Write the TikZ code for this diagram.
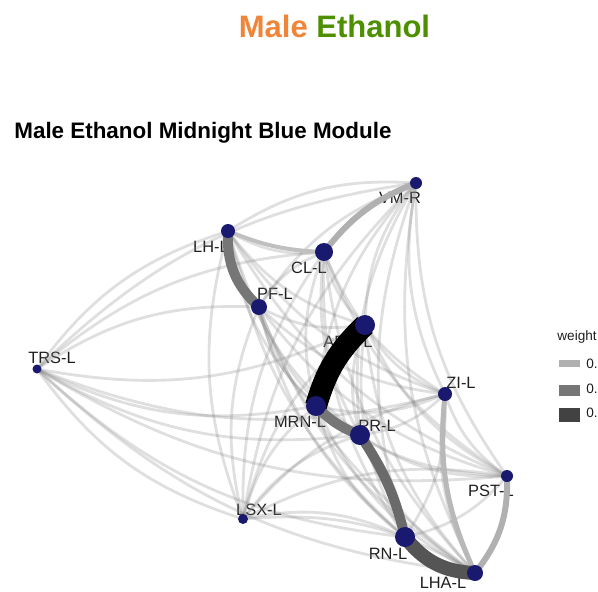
\documentclass[tikz,border=0pt]{standalone}
\usepackage{fontspec}
\setmainfont{Liberation Sans}
\pgfdeclarelayer{labels}
\pgfdeclarelayer{edges}
\pgfsetlayers{labels,edges,main}
\definecolor{mblue}{RGB}{25,25,112}
\definecolor{titleorange}{RGB}{240,132,56}
\definecolor{titlegreen}{RGB}{78,143,0}
\definecolor{wlight}{RGB}{176,176,176}
\definecolor{wmid}{RGB}{118,118,118}
\definecolor{wdark}{RGB}{66,66,66}
\definecolor{labeltext}{RGB}{30,30,30}
\tikzset{
  vert/.style={circle, fill=mblue, draw=none, inner sep=0pt},
  vlabel/.style={anchor=base, inner sep=0pt, text=labeltext, font=\fontsize{8.2}{9}\selectfont},
  thinedge/.style={draw=black!50, line width=1.4pt, opacity=0.25},
  legtext/.style={anchor=base west, inner sep=0pt, text=labeltext, font=\fontsize{6.8}{8}\selectfont}
}
\begin{document}
\begin{tikzpicture}[x=0.5pt, y=0.5pt]
\useasboundingbox (0,0) rectangle (598,591);
% titles
\node[anchor=base, inner sep=0pt, font=\bfseries\fontsize{15.5}{18}\selectfont] (title) at (334.5,554)
  {\textcolor{titleorange}{Male} \textcolor{titlegreen}{Ethanol}};
\node[anchor=base west, inner sep=0pt, font=\bfseries\fontsize{11.2}{13}\selectfont] (subtitle) at (14,453)
  {Male Ethanol Midnight Blue Module};
% vertices
\node[vert, minimum size=6pt] (VM) at (416,408) {};
\node[vert, minimum size=7pt] (LH) at (228,360) {};
\node[vert, minimum size=9pt] (CL) at (324,339) {};
\node[vert, minimum size=8pt] (PF) at (259,284) {};
\node[vert, minimum size=10pt] (ARC) at (365,266) {};
\node[vert, minimum size=10pt] (MRN) at (316,185) {};
\node[vert, minimum size=10pt] (PR) at (360,156) {};
\node[vert, minimum size=7pt] (ZI) at (445,197) {};
\node[vert, minimum size=6pt] (PST) at (507,115) {};
\node[vert, minimum size=5pt] (LSX) at (243,72) {};
\node[vert, minimum size=10pt] (RN) at (405,54) {};
\node[vert, minimum size=8pt] (LHA) at (475,18) {};
\node[vert, minimum size=4.5pt] (TRS) at (37,222) {};
% labels
\begin{pgfonlayer}{labels}
\node[vlabel] (lVM) at (400,388) {VM-R};
\node[vlabel] (lLH) at (211,339) {LH-L};
\node[vlabel] (lCL) at (309,318) {CL-L};
\node[vlabel] (lPF) at (275,292) {PF-L};
\node[vlabel] (lARC) at (348,244) {ARC-L};
\node[vlabel] (lMRN) at (300,164) {MRN-L};
\node[vlabel] (lPR) at (377,160) {PR-L};
\node[vlabel] (lZI) at (461,203) {ZI-L};
\node[vlabel] (lPST) at (491,95) {PST-L};
\node[vlabel] (lLSX) at (259,76) {LSX-L};
\node[vlabel] (lRN) at (388,32) {RN-L};
\node[vlabel] (lLHA) at (443,3) {LHA-L};
\node[vlabel] (lTRS) at (52,228) {TRS-L};
\end{pgfonlayer}
% edges
\begin{pgfonlayer}{edges}
\def\order{LSX,PST,LHA,ZI,PR,RN,MRN,ARC,TRS,PF,CL,LH,VM}
\foreach \a [count=\i] in \order {
  \foreach \b [count=\j] in \order {
    \ifnum\j>\i
      \draw[thinedge] (\a.center) to[bend left=18] (\b.center);
    \fi
  }
}
\draw[line width=2pt, draw=wlight!80!white] (CL.center) to[bend left=10] (LH.center);
\draw[line width=3pt, draw=wlight] (CL.center) to[bend left=15] (VM.center);
\draw[line width=3pt, draw=wlight] (PST.center) to[bend left=20] (LHA.center);
\draw[line width=2.5pt, draw=wlight!90!white] (LHA.center) to[bend left=15] (ZI.center);
\draw[line width=5pt, draw=wmid] (PF.center) to[bend left=25] (LH.center);
\draw[line width=5pt, draw=wmid] (PR.center) to[bend left=12] (MRN.center);
\draw[line width=5pt, draw=wmid!90!black] (PR.center) to[bend left=10] (RN.center);
\draw[line width=7pt, draw=wdark!90!white] (LHA.center) to[bend left=25] (RN.center);
\draw[line width=11pt, draw=black] (MRN.center) to[bend left=15] (ARC.center);
\end{pgfonlayer}
% legend
\node[legtext] (legtitle) at (557,251) {weight};
\fill[wlight] (559,224) rectangle (580,231);
\fill[wmid] (559,195) rectangle (580,206);
\fill[wdark] (559,169) rectangle (580,183);
\node[legtext] (leg1) at (586,223) {0.};
\node[legtext] (leg2) at (586,198) {0.};
\node[legtext] (leg3) at (586,174) {0.};
\end{tikzpicture}
\end{document}
